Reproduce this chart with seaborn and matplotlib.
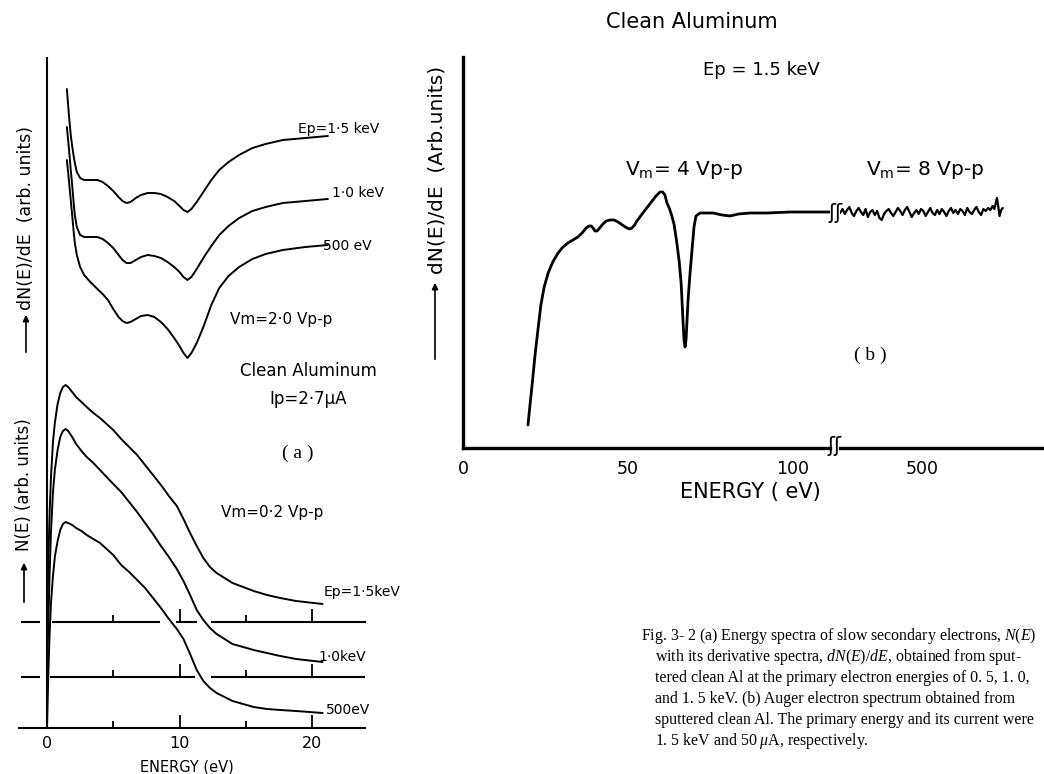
import numpy as np
import pandas as pd
import matplotlib
matplotlib.use("Agg")
import matplotlib.pyplot as plt
from matplotlib.patches import FancyArrowPatch
import seaborn as sns

# ---- values ----
ep_names = ["1.5 keV", "1.0 keV", "500 eV"]

# (a) upper: dN(E)/dE vs energy (eV), arb. units relative to the tail level
de_energy = [1.5, 1.6, 1.7, 1.8, 1.9, 2.0, 2.1, 2.25, 2.5, 2.8, 3.2, 3.8, 4.2,
             4.6, 5.0, 5.4, 5.7, 6.0, 6.3, 6.7, 7.1, 7.6, 8.1, 8.6, 9.1, 9.6,
             10.0, 10.3, 10.6, 10.9, 11.3, 11.8, 12.4, 13.0, 13.7, 14.5, 15.5,
             16.5, 17.8, 19.5, 21.2]
de_15kev = [47, 30, 14, 0, -10, -19, -27, -36, -42, -44, -44, -44, -46,
            -50, -55, -61, -65, -67, -66, -62, -59, -57, -57, -58, -61, -65,
            -70, -74, -76, -73, -66, -56, -44, -34, -26, -19, -12,
            -8, -4, -2, 0]
de_10kev = [72, 58, 44, 28, 14, -2, -16, -28, -36, -38, -38, -38, -40,
            -44, -49, -56, -61, -64, -64, -61, -58, -56, -57, -59, -63, -68,
            -73, -78, -81, -78, -70, -59, -47, -36, -27, -19, -12,
            -8, -4, -2, 0]
de_500ev = [85, 72, 58, 44, 30, 15, 2, -10, -22, -30, -36, -44, -49,
            -55, -64, -72, -76, -78, -77, -74, -71, -70, -72, -77, -84, -93,
            -101, -108, -113, -108, -98, -82, -60, -43, -31, -22, -14,
            -9, -5, -2, 0]

# (a) lower: N(E) vs energy (eV), arb. units above each baseline
ne_energy = [0.0, 0.1, 0.2, 0.3, 0.45, 0.6, 0.8, 1.0, 1.2, 1.4, 1.6, 1.9, 2.2,
             2.6, 3.0, 3.5, 4.0, 4.5, 5.0, 5.6, 6.2, 6.8, 7.4, 8.0, 8.6, 9.2,
             9.8, 10.3, 10.8, 11.3, 11.8, 12.3, 12.8, 13.4, 14.0, 14.8, 15.6,
             16.6, 17.6, 18.8, 20.8]
ne_15kev = [0, 60, 110, 145, 180, 200, 218, 229, 235, 237, 235, 230, 225,
            220, 215, 209, 204, 198, 192, 183, 175, 167, 157, 147, 137, 126,
            116, 103, 89, 76, 64, 55, 49, 44, 39, 35, 31,
            27, 24, 21, 18]
ne_10kev = [0, 55, 105, 145, 185, 208, 227, 240, 246, 248, 246, 240, 233,
            226, 220, 214, 207, 200, 193, 185, 175, 165, 154, 143, 131, 120,
            108, 96, 82, 67, 57, 49, 43, 38, 33, 30, 27,
            24, 21, 18, 15]
ne_500ev = [0, 55, 95, 125, 152, 172, 187, 198, 204, 206, 205, 203, 200,
            197, 193, 189, 185, 179, 173, 163, 156, 148, 140, 130, 120, 109,
            99, 89, 74, 58, 47, 40, 35, 31, 27, 24, 21,
            19, 18, 17, 15]
a_ticks = [5, 10, 15, 20]
a_ticklabels = [0, 10, 20]

# (b) Auger spectrum, low-energy part (Vm = 4 Vp-p)
aes_energy = [19.7, 20.3, 21.0, 21.8, 22.7, 23.6, 24.6, 25.8, 27.2, 28.8,
              30.3, 31.8, 33.3, 34.8, 36.1, 37.3, 38.2, 38.9, 39.4, 40.0,
              40.6, 41.4, 42.4, 43.4, 44.5, 45.8, 47.0, 48.3, 49.7, 50.5,
              51.2, 52.0, 52.7, 53.6, 54.5, 55.9, 57.3, 58.5, 59.7, 60.5,
              61.2, 61.8, 62.5, 63.3, 64.0, 64.8, 65.5, 66.1, 66.7, 67.0,
              67.3, 67.6, 68.2, 68.8, 69.4, 70.0, 70.6, 71.8, 73.5, 75.8,
              78.5, 80.9, 83.5, 87.0, 92.0, 99.1, 105.0, 111.2]
aes_signal = [-212, -192, -170, -143, -117, -92, -74, -60, -49, -40,
              -34, -30, -27, -24, -20, -15, -13, -13, -15, -18,
              -18, -15, -11, -8, -7, -7, -9, -12, -15, -16,
              -15, -12, -8, -4, 0, 6, 12, 17, 21, 21,
              18, 10, 5, -3, -12, -30, -48, -70, -110, -128,
              -134, -126, -87, -60, -37, -14, -3, 0, 0, 0,
              -2, -3, -1, 0, 0, 1, 1, 1]
# (b) high-energy part (Vm = 8 Vp-p), noisy flat trace
aes_hi_energy = [252, 259, 266, 273, 280, 287, 294, 301, 308, 315, 322, 329,
                 336, 343, 350, 357, 364, 371, 378, 385, 392, 399, 406, 413,
                 420, 427, 434, 441, 448, 455, 462, 469, 476, 483, 490, 497,
                 504, 511, 518, 525, 532, 539, 546, 553, 560, 567, 574, 581,
                 588, 595, 602, 609, 616, 623, 630, 637, 644, 651, 658, 665,
                 672, 679, 686, 693, 700, 707, 714, 719, 723, 727, 731, 735,
                 740, 745]
aes_hi_signal = [0, 4, -1, 3, 6, 0, -3, 2, 5, 1, -2, 4,
                 -4, 1, 3, -2, 2, -5, -7, -1, 2, 4, 0, -3,
                 1, 5, 2, -2, 3, 6, 1, -4, 0, 3, -1, 4,
                 2, -3, 1, 5, 0, -2, 3, -1, 4, 1, -3, 2,
                 5, 0, 3, -1, 4, 2, -2, 5, 1, -1, 3, 6,
                 1, -2, 4, 2, 5, 3, 7, 4, 9, 15, 7, -3,
                 3, 5]
b_major = [50, 100]
b_minor = [10, 20, 30, 40, 60, 70, 80, 90]
c_major = [500]
c_minor = [300, 400, 600, 700, 800]

# ---- style ----
sns.set_style("white")
plt.rcParams["font.family"] = ["DejaVu Sans"]
plt.rcParams["text.color"] = "black"
plt.rcParams["xtick.color"] = "black"
plt.rcParams["mathtext.fontset"] = "custom"
plt.rcParams["mathtext.rm"] = "Liberation Serif"
plt.rcParams["mathtext.it"] = "Liberation Serif:italic"
plt.rcParams["mathtext.sf"] = "DejaVu Sans"

W, H = 1044, 774
fig = plt.figure(figsize=(W / 100, H / 100), dpi=100)


def rect(x0, y0, x1, y1):
    # pixel box (top-left origin) -> figure fraction
    return [x0 / W, 1 - y1 / H, (x1 - x0) / W, (y1 - y0) / H]


def put(x, y, s, **kw):
    kw.setdefault("va", "center")
    fig.text(x / W, 1 - y / H, s, **kw)


def arrow_up(x, y0, y1):
    fig.add_artist(FancyArrowPatch(
        (x / W, 1 - y0 / H), (x / W, 1 - y1 / H), transform=fig.transFigure,
        arrowstyle="-|>", mutation_scale=9, lw=1.2, color="black"))


# ---- panel (a) ----
ax_a = fig.add_axes(rect(0, 0, 380, 774))
ax_a.set_xlim(-47 / 13.25, (380 - 47) / 13.25)
ax_a.set_ylim(0, 774)
ax_a.axis("off")

de_level = [638, 575, 529]   # tail levels of the three dN/dE traces
ne_level = [152, 97, 46]     # baselines of the three N(E) traces

de_df = pd.DataFrame({
    "energy": de_energy * 3,
    "signal": np.concatenate([np.add(v, lv) for v, lv in
                              zip([de_15kev, de_10kev, de_500ev], de_level)]),
    "curve": np.repeat(ep_names, len(de_energy)),
})
ne_df = pd.DataFrame({
    "energy": ne_energy * 3,
    "signal": np.concatenate([np.add(v, lv) for v, lv in
                              zip([ne_15kev, ne_10kev, ne_500ev], ne_level)]),
    "curve": np.repeat(ep_names, len(ne_energy)),
})
for d in (de_df, ne_df):
    sns.lineplot(data=d, x="energy", y="signal", units="curve", estimator=None,
                 sort=False, color="black", lw=1.4, legend=False, ax=ax_a)

# vertical axis and broken baselines
ax_a.vlines(0, ne_level[2], 774 - 57, color="black", lw=1.5)
segments = [[(-2.0, -0.5), (0.4, 8.5), (9.7, 11.3), (12.4, 24.1)],
            [(-2.0, -0.5), (0.25, 11.2), (12.4, 24.0)],
            [(-2.2, 24.1)]]
for lv, segs in zip(ne_level, segments):
    for s0, s1 in segs:
        ax_a.hlines(lv, s0, s1, color="black", lw=1.5)
    for t in a_ticks:
        ax_a.vlines(t, lv, lv + (13 if t % 10 == 0 else 7), color="black", lw=1.3)
for t in a_ticklabels:
    ax_a.text(t, 774 - 743, str(t), ha="center", va="center", fontsize=11.5)
put(187, 767, "ENERGY (eV)", ha="center", fontsize=10.5)

put(298, 129, "Ep=1·5 keV", fontsize=10)
put(332, 193, "1·0 keV", fontsize=10)
put(323, 246, "500 eV", fontsize=10)
put(230, 320, "Vm=2·0 Vp-p", fontsize=11)
put(240, 371, "Clean Aluminum", fontsize=12)
put(269, 399, "Ip=2·7μA", fontsize=12)
put(298, 453, "( a )", ha="center", fontsize=14, family="Liberation Serif")
put(221, 512, "Vm=0·2 Vp-p", fontsize=11)
put(324, 592, "Ep=1·5keV", fontsize=10)
put(318, 657, "1·0keV", fontsize=10)
put(326, 710, "500eV", fontsize=10)

put(26, 218, "dN(E)/dE  (arb. units)", ha="center", rotation=90, fontsize=12.5)
arrow_up(26, 355, 312)
put(24, 485, "N(E) (arb. units)", ha="center", rotation=90, fontsize=12)
arrow_up(24, 605, 560)

# ---- panel (b): broken energy axis ----
ax_b = fig.add_axes(rect(463, 57, 830, 448))
ax_c = fig.add_axes(rect(840, 57, 1044, 448))
ax_b.set_xlim(0, (830 - 463) / 3.3)
ax_c.set_xlim(500 - 82 / 0.33, 500 + 122 / 0.33)
for ax in (ax_b, ax_c):
    ax.set_ylim(-235, 156)
    ax.set_yticks([])
    ax.patch.set_alpha(0)
    for side in ("top", "right", "left"):
        ax.spines[side].set_visible(False)
    ax.spines["bottom"].set_linewidth(2.4)
    ax.spines["bottom"].set_color("black")
ax_b.spines["left"].set_visible(True)
ax_b.spines["left"].set_linewidth(2.4)
ax_b.spines["left"].set_color("black")

sns.lineplot(x=aes_energy, y=aes_signal, sort=False, estimator=None,
             color="black", lw=2.0, ax=ax_b)
sns.lineplot(x=aes_hi_energy, y=aes_hi_signal, sort=False, estimator=None,
             color="black", lw=1.6, ax=ax_c)

ax_b.set_xticks([0] + b_major, labels=["0"] + [str(v) for v in b_major])
ax_b.set_xticks(b_minor, minor=True)
ax_c.set_xticks(c_major, labels=[str(v) for v in c_major])
ax_c.set_xticks(c_minor, minor=True)
for ax in (ax_b, ax_c):
    ax.tick_params(axis="x", which="major", direction="in", length=11,
                   width=1.6, color="black", labelsize=12.5, pad=9)
    ax.tick_params(axis="x", which="minor", direction="in", length=6.5,
                   width=1.6, color="black")
    ax.set_xlabel("")
    ax.set_ylabel("")

put(834, 446, "ʃʃ", ha="center", fontsize=15)
put(835, 213, "ʃʃ", ha="center", fontsize=15)

put(750, 492, "ENERGY ( eV)", ha="center", fontsize=15)
put(692, 22, "Clean Aluminum", ha="center", fontsize=15)
put(761, 70, "Ep = 1.5 keV", ha="center", fontsize=13)
put(684, 170, r"V$_{\mathsf{m}}$= 4 Vp-p", ha="center", fontsize=14.5)
put(925, 170, r"V$_{\mathsf{m}}$= 8 Vp-p", ha="center", fontsize=14.5)
put(870, 355, "( b )", ha="center", fontsize=14, family="Liberation Serif")
put(437, 170, "dN(E)/dE  (Arb.units)", ha="center", rotation=90, fontsize=14.5)
arrow_up(435, 362, 280)

# ---- caption ----
cap = dict(fontsize=11.4, family="Liberation Serif", ha="left")
put(641, 636, r"Fig. 3- 2 (a) Energy spectra of slow secondary electrons, $N(E)$", **cap)
put(655, 657, r"with its derivative spectra, $dN(E)/dE$, obtained from sput-", **cap)
put(655, 678, "tered clean Al at the primary electron energies of 0. 5, 1. 0,", **cap)
put(655, 699, "and 1. 5 keV. (b) Auger electron spectrum obtained from", **cap)
put(655, 720, "sputtered clean Al. The primary energy and its current were", **cap)
put(655, 741, r"1. 5 keV and 50 $\mu$A, respectively.", **cap)

fig.savefig("out.png", dpi=100, facecolor="white")
